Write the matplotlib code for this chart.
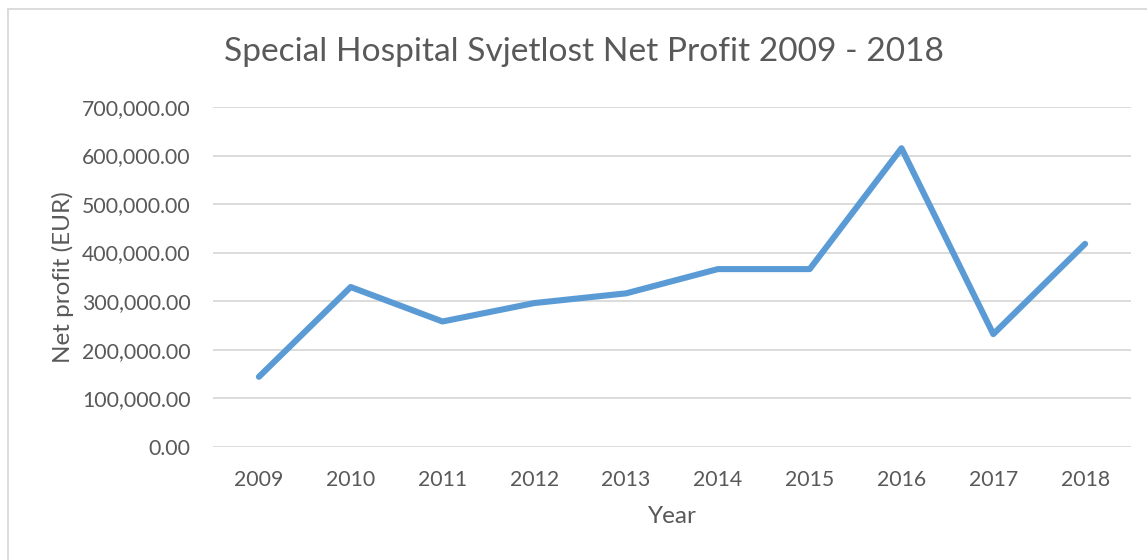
import matplotlib
matplotlib.use("Agg")
import matplotlib.pyplot as plt
from matplotlib.ticker import FuncFormatter
from matplotlib.lines import Line2D

years = ["2009", "2010", "2011", "2012", "2013", "2014", "2015", "2016", "2017", "2018"]
net_profit = [144000, 329000, 258000, 296000, 316000, 366000, 366000, 615000, 232000, 418000]
y_ticks = [0, 100000, 200000, 300000, 400000, 500000, 600000, 700000]

plt.rcParams['font.family'] = ['Lato', 'DejaVu Sans']
text_color = "#595959"

fig = plt.figure(figsize=(11.47, 5.60), dpi=100)
ax = fig.add_axes([213/1147, 1 - 446.7/560, (1131-213)/1147, (446.7-107)/560])

x = list(range(len(years)))
ax.plot(x, net_profit, color="#5B9BD5", lw=4.4, solid_capstyle="round", solid_joinstyle="round", zorder=3)

ax.set_xlim(-0.5, len(years) - 0.5)
ax.set_ylim(0, 700000)
ax.set_yticks(y_ticks)
ax.yaxis.set_major_formatter(FuncFormatter(lambda v, p: f"{v:,.2f}"))
ax.set_xticks(x)
ax.set_xticklabels(years)

ax.grid(axis="y", color="#D9D9D9", lw=1.3, zorder=0)
for s in ax.spines.values():
    s.set_visible(False)
ax.tick_params(axis="both", length=0, colors=text_color, labelsize=15.3)
ax.tick_params(axis="y", pad=16)
ax.tick_params(axis="x", pad=16.5)

ax.set_xlabel("Year", color=text_color, fontsize=17.5, labelpad=12)
ax.set_ylabel("Net profit (EUR)", color=text_color, fontsize=17.5, labelpad=6)

fig.text(584/1147, 1 - 52/560, "Special Hospital Svjetlost Net Profit 2009 - 2018",
         ha="center", va="center", color=text_color, fontsize=24.1)

# outer chart border (top and left edges visible in the crop)
fig.add_artist(Line2D([8/1147, 8/1147], [0, 1 - 9/560], transform=fig.transFigure, color="#D9D9D9", lw=1.3))
fig.add_artist(Line2D([8/1147, 1], [1 - 9/560, 1 - 9/560], transform=fig.transFigure, color="#D9D9D9", lw=1.3))

fig.savefig("out.png", dpi=100, facecolor="white")
